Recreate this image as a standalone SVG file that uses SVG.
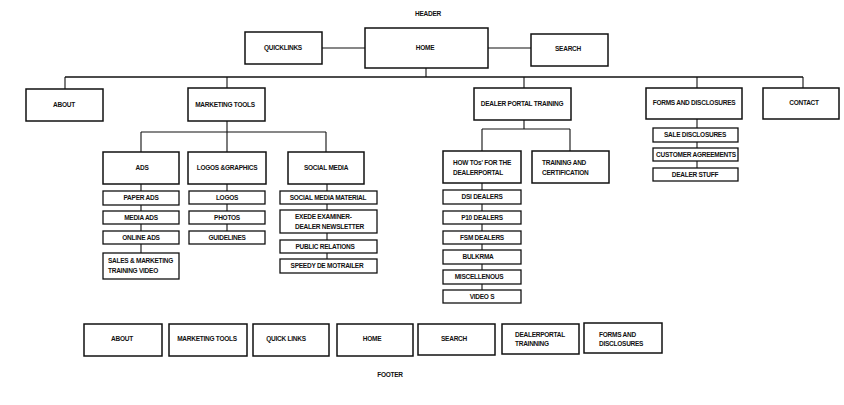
<svg xmlns="http://www.w3.org/2000/svg" width="844" height="405" viewBox="0 0 844 405">
  <style>
    .box { fill: #fff; stroke: #111; stroke-width: 1.5; }
    .sm { fill: #fff; stroke: #111; stroke-width: 1.3; }
    .wire { stroke: #111; stroke-width: 1.1; fill: none; }
    .main { stroke: #111; stroke-width: 1.7; fill: none; }
    text { font-family: "Liberation Sans", Arial, sans-serif; font-weight: bold; font-size: 6.5px; fill: #111; letter-spacing: -0.25px; }
    .c { text-anchor: middle; }
  </style>
  <rect width="844" height="405" fill="#fff"/>

  <!-- connectors -->
  <g id="connectors">
    <path class="wire" d="M322 48H365M488 48H531"/>
    <path class="wire" d="M426 68V77"/>
    <path class="main" d="M65 77H803"/>
    <path class="wire" d="M65 77V89M227 77V88M524 77V88M697 77V88M803 77V88"/>
    <!-- marketing tools branch -->
    <path class="wire" d="M227 121V132M141 132H326M141 132V152M227 132V152M326 132V152"/>
    <path class="wire" d="M141 184V253M227 184V231M327 184V259"/>
    <!-- dealer portal training branch -->
    <path class="wire" d="M524 120V129M482 129H570M482 129V151M570 129V151"/>
    <path class="wire" d="M482 183V290"/>
    <!-- forms branch -->
    <path class="wire" d="M697 119V168"/>
  </g>

  <text class="c" x="428" y="16">HEADER</text>

  <!-- header row -->
  <g id="quicklinks"><rect class="box" x="245" y="32" width="77" height="32"/><text class="c" x="283" y="50">QUICKLINKS</text></g>
  <g id="home"><rect class="box" x="365" y="28" width="123" height="40"/><text class="c" x="425" y="50">HOME</text></g>
  <g id="search"><rect class="box" x="531" y="34" width="77" height="32"/><text class="c" x="568" y="51">SEARCH</text></g>

  <!-- main sections -->
  <g id="about"><rect class="box" x="26" y="89" width="77" height="32"/><text class="c" x="64" y="107">ABOUT</text></g>
  <g id="marketing-tools"><rect class="box" x="188" y="88" width="77" height="33"/><text class="c" x="225" y="107">MARKETING TOOLS</text></g>
  <g id="dealer-portal-training"><rect class="box" x="474" y="88" width="97" height="32"/><text class="c" x="522" y="106">DEALER PORTAL TRAINING</text></g>
  <g id="forms-and-disclosures"><rect class="box" x="646" y="88" width="96" height="31"/><text class="c" x="694" y="105">FORMS AND DISCLOSURES</text></g>
  <g id="contact"><rect class="box" x="763" y="88" width="76" height="31"/><text class="c" x="804" y="105">CONTACT</text></g>

  <!-- marketing tools children -->
  <g id="ads"><rect class="box" x="103" y="152" width="76" height="32"/><text class="c" x="142" y="170">ADS</text></g>
  <g id="logos-graphics"><rect class="box" x="188" y="152" width="78" height="32"/><text class="c" x="227" y="170">LOGOS &amp;GRAPHICS</text></g>
  <g id="social-media"><rect class="box" x="288" y="152" width="76" height="32"/><text class="c" x="326" y="170">SOCIAL MEDIA</text></g>

  <g id="paper-ads"><rect class="sm" x="103" y="191" width="76" height="14"/><text class="c" x="141" y="200">PAPER ADS</text></g>
  <g id="media-ads"><rect class="sm" x="103" y="211" width="76" height="13"/><text class="c" x="141" y="220">MEDIA ADS</text></g>
  <g id="online-ads"><rect class="sm" x="103" y="231" width="76" height="13"/><text class="c" x="141" y="240">ONLINE ADS</text></g>
  <g id="sales-marketing-video"><rect class="sm" x="103" y="253" width="76" height="26"/><text x="108" y="263">SALES &amp; MARKETING</text><text x="108" y="273">TRAINING VIDEO</text></g>

  <g id="logos"><rect class="sm" x="189" y="191" width="76" height="13"/><text class="c" x="227" y="200">LOGOS</text></g>
  <g id="photos"><rect class="sm" x="189" y="211" width="76" height="13"/><text class="c" x="227" y="220">PHOTOS</text></g>
  <g id="guidelines"><rect class="sm" x="189" y="231" width="76" height="13"/><text class="c" x="227" y="240">GUIDELINES</text></g>

  <g id="social-media-material"><rect class="sm" x="280" y="191" width="97" height="13"/><text class="c" x="328" y="200">SOCIAL MEDIA MATERIAL</text></g>
  <g id="exede-examiner"><rect class="sm" x="280" y="210" width="97" height="23"/><text x="295" y="219">EXEDE EXAMINER-</text><text x="295" y="229">DEALER NEWSLETTER</text></g>
  <g id="public-relations"><rect class="sm" x="280" y="240" width="97" height="13"/><text class="c" x="325" y="249">PUBLIC RELATIONS</text></g>
  <g id="speedy-demo-trailer"><rect class="sm" x="280" y="259" width="97" height="14"/><text class="c" x="327" y="268">SPEEDY DE MOTRAILER</text></g>

  <!-- dealer portal training children -->
  <g id="how-tos"><rect class="box" x="443" y="151" width="78" height="32"/><text x="453" y="165">HOW TOs' FOR THE</text><text x="453" y="175">DEALERPORTAL</text></g>
  <g id="training-certification"><rect class="box" x="532" y="151" width="77" height="32"/><text x="542" y="165">TRAINING AND</text><text x="542" y="175">CERTIFICATION</text></g>

  <g id="dsi-dealers"><rect class="sm" x="443" y="190" width="78" height="14"/><text class="c" x="482" y="199">DSI DEALERS</text></g>
  <g id="p10-dealers"><rect class="sm" x="443" y="211" width="78" height="13"/><text class="c" x="482" y="220">P10 DEALERS</text></g>
  <g id="fsm-dealers"><rect class="sm" x="443" y="231" width="78" height="13"/><text class="c" x="482" y="240">FSM DEALERS</text></g>
  <g id="bulkrma"><rect class="sm" x="443" y="250" width="78" height="14"/><text class="c" x="478" y="259">BULKRMA</text></g>
  <g id="miscellenous"><rect class="sm" x="443" y="270" width="78" height="14"/><text class="c" x="479" y="279">MISCELLENOUS</text></g>
  <g id="videos"><rect class="sm" x="443" y="290" width="78" height="13"/><text class="c" x="482" y="299">VIDEO S</text></g>

  <!-- forms children -->
  <g id="sale-disclosures"><rect class="sm" x="653" y="128" width="85" height="14"/><text class="c" x="695" y="137">SALE DISCLOSURES</text></g>
  <g id="customer-agreements"><rect class="sm" x="653" y="148" width="85" height="13"/><text class="c" x="696" y="157">CUSTOMER AGREEMENTS</text></g>
  <g id="dealer-stuff"><rect class="sm" x="653" y="168" width="85" height="13"/><text class="c" x="695" y="177">DEALER STUFF</text></g>

  <!-- footer row -->
  <g id="footer-about"><rect class="box" x="84" y="324" width="78" height="32"/><text class="c" x="122" y="341">ABOUT</text></g>
  <g id="footer-marketing-tools"><rect class="box" x="169" y="324" width="78" height="32"/><text class="c" x="207" y="341">MARKETING TOOLS</text></g>
  <g id="footer-quick-links"><rect class="box" x="253" y="324" width="76" height="32"/><text class="c" x="286" y="341">QUICK LINKS</text></g>
  <g id="footer-home"><rect class="box" x="337" y="324" width="76" height="32"/><text class="c" x="372" y="341">HOME</text></g>
  <g id="footer-search"><rect class="box" x="418" y="324" width="77" height="31"/><text class="c" x="454" y="341">SEARCH</text></g>
  <g id="footer-dealer-portal-training"><rect class="box" x="502" y="324" width="77" height="30"/><text x="515" y="337">DEALERPORTAL</text><text x="515" y="346">TRAINNING</text></g>
  <g id="footer-forms"><rect class="box" x="584" y="323" width="78" height="30"/><text x="599" y="337">FORMS AND</text><text x="599" y="346">DISCLOSURES</text></g>

  <text class="c" x="390" y="377">FOOTER</text>
</svg>
